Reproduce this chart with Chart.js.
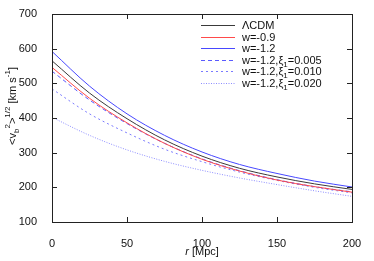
<!DOCTYPE html>
<html>
<head>
<meta charset="utf-8">
<script src="https://cdn.jsdelivr.net/npm/chart.js@4.4.1/dist/chart.umd.min.js"></script>
<style>
  html, body { margin: 0; padding: 0; background: #fff; }
  #wrap { width: 374px; height: 261px; }
</style>
</head>
<body>
<div id="wrap"><canvas id="c" width="374" height="261"></canvas></div>
<script>
// radius in Mpc
const radius = [0, 25, 50, 75, 100, 125, 150, 175, 200];

// velocity dispersion curves, km/s
const lcdm   = [565, 472, 398, 337, 290, 255, 230, 210, 194];
const w09    = [546, 457, 386, 327, 281, 247, 221, 202, 186];
const w12    = [592, 492, 412, 350, 302, 266, 240, 218, 201];
const xi005  = [535, 452, 384, 327, 282, 248, 222, 202, 187];
const xi010  = [484, 412, 357, 310, 274, 244, 220, 200, 184];
const xi020  = [402, 350, 308, 275, 249, 227, 208, 190, 174];

const xTicks = [0, 50, 100, 150, 200];
const yTicks = [100, 200, 300, 400, 500, 600, 700];

// legend rows: [prefix, xi value or null]
const legendRows = [
  ['\u039BCDM', null],
  ['w=-0.9', null],
  ['w=-1.2', null],
  ['w=-1.2,', '0.005'],
  ['w=-1.2,', '0.010'],
  ['w=-1.2,', '0.020']
];

const FONT = "'Liberation Sans', Arial, sans-serif";

const series = [
  { data: lcdm,  color: '#3a3a3a', dash: [] },
  { data: w09,   color: '#ff4a4a', dash: [] },
  { data: w12,   color: '#4848ff', dash: [] },
  { data: xi005, color: '#5a5aff', dash: [4, 3] },
  { data: xi010, color: '#7a7aff', dash: [2, 3] },
  { data: xi020, color: '#8c8cff', dash: [1, 1.5] }
];

function toPoints(vals) {
  return radius.map((r, i) => ({ x: r, y: vals[i] }));
}

// draws a run of text pieces, each with an offset in y (negative = up) and size
function drawPieces(ctx, pieces, x, y) {
  let cx = x;
  pieces.forEach(p => {
    ctx.font = (p.italic ? 'italic ' : '') + p.size + 'px ' + FONT;
    ctx.fillText(p.t, cx, y + (p.dy || 0));
    cx += ctx.measureText(p.t).width;
  });
  return cx - x;
}

function piecesWidth(ctx, pieces) {
  let w = 0;
  pieces.forEach(p => {
    ctx.font = (p.italic ? 'italic ' : '') + p.size + 'px ' + FONT;
    w += ctx.measureText(p.t).width;
  });
  return w;
}

const framePlugin = {
  id: 'frame',
  afterDraw(chart) {
    const ctx = chart.ctx;
    const a = chart.chartArea;
    const xs = chart.scales.x, ys = chart.scales.y;
    ctx.save();
    ctx.strokeStyle = '#222';
    ctx.lineWidth = 1;
    ctx.setLineDash([]);
    ctx.strokeRect(Math.round(a.left) + 0.5, Math.round(a.top) + 0.5,
      Math.round(a.right - a.left), Math.round(a.bottom - a.top));
    // inward ticks, mirrored
    ctx.beginPath();
    xTicks.forEach(v => {
      const px = Math.round(xs.getPixelForValue(v)) + 0.5;
      ctx.moveTo(px, a.bottom); ctx.lineTo(px, a.bottom - 5);
      ctx.moveTo(px, a.top); ctx.lineTo(px, a.top + 5);
    });
    yTicks.forEach(v => {
      const py = Math.round(ys.getPixelForValue(v)) + 0.5;
      ctx.moveTo(a.left, py); ctx.lineTo(a.left + 5, py);
      ctx.moveTo(a.right, py); ctx.lineTo(a.right - 5, py);
    });
    ctx.stroke();

    ctx.fillStyle = '#111';
    ctx.textBaseline = 'alphabetic';
    // x title
    const xt = [{ t: 'r', size: 11, italic: true }, { t: ' [Mpc]', size: 11 }];
    const xw = piecesWidth(ctx, xt);
    drawPieces(ctx, xt, (a.left + a.right) / 2 - xw / 2, 255);

    // y title, rotated
    const yt = [
      { t: '<v', size: 11 },
      { t: 'b', size: 8, dy: 3 },
      { t: '2', size: 8, dy: -6 },
      { t: '>', size: 11 },
      { t: '1/2', size: 8, dy: -6 },
      { t: ' [km s', size: 11 },
      { t: '-1', size: 8, dy: -6 },
      { t: ']', size: 11 }
    ];
    const yw = piecesWidth(ctx, yt);
    ctx.save();
    ctx.translate(16, 106);
    ctx.rotate(-Math.PI / 2);
    drawPieces(ctx, yt, -yw / 2, 0);
    ctx.restore();

    // legend
    const lx0 = 201, lx1 = 235, tx = 242;
    legendRows.forEach((row, i) => {
      const y = 25 + i * 11.6;
      const s = series[i];
      ctx.strokeStyle = s.color;
      ctx.setLineDash(s.dash);
      ctx.beginPath();
      ctx.moveTo(lx0, Math.round(y) + 0.5);
      ctx.lineTo(lx1, Math.round(y) + 0.5);
      ctx.stroke();
      ctx.setLineDash([]);
      ctx.fillStyle = '#111';
      const pcs = [{ t: row[0], size: 11 }];
      if (row[1]) {
        pcs.push({ t: '\u03BE', size: 11 });
        pcs.push({ t: '1', size: 8, dy: 3 });
        pcs.push({ t: '=' + row[1], size: 11 });
      }
      drawPieces(ctx, pcs, tx, y + 4);
    });
    ctx.restore();
  }
};

new Chart(document.getElementById('c'), {
  type: 'line',
  data: {
    datasets: series.map(s => ({
      data: toPoints(s.data),
      borderColor: s.color,
      borderWidth: 1,
      borderDash: s.dash,
      pointRadius: 0,
      fill: false,
      cubicInterpolationMode: 'monotone'
    }))
  },
  options: {
    responsive: false,
    animation: false,
    devicePixelRatio: 1,
    layout: { padding: { top: 14, right: 22, left: 0, bottom: 0 } },
    plugins: { legend: { display: false }, tooltip: { enabled: false } },
    scales: {
      x: {
        type: 'linear', min: 0, max: 200,
        grid: { display: false }, border: { display: false },
        afterBuildTicks: s => { s.ticks = xTicks.map(v => ({ value: v })); },
        afterFit: s => { s.height = 39; },
        ticks: { color: '#111', padding: 7, font: { family: FONT, size: 11 } }
      },
      y: {
        min: 100, max: 700,
        grid: { display: false }, border: { display: false },
        afterBuildTicks: s => { s.ticks = yTicks.map(v => ({ value: v })); },
        afterFit: s => { s.width = 52; },
        ticks: { color: '#111', padding: 7, font: { family: FONT, size: 11 } }
      }
    }
  },
  plugins: [framePlugin]
});
</script>
</body>
</html>
